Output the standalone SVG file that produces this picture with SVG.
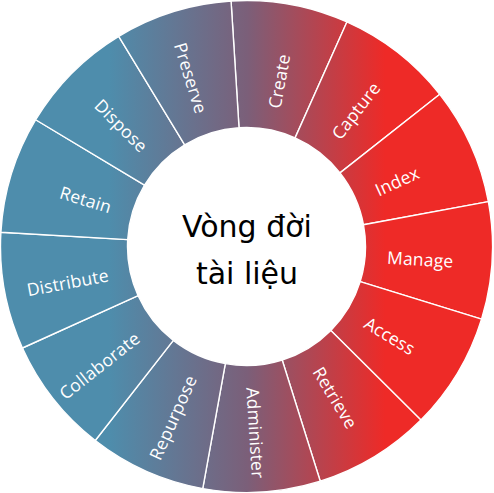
<svg xmlns="http://www.w3.org/2000/svg" width="494" height="493" viewBox="0 0 494 493">
<defs>
<linearGradient id="g" gradientUnits="userSpaceOnUse" x1="0" y1="0" x2="494" y2="0">
<stop offset="0.22" stop-color="#4e8dac"/>
<stop offset="0.5" stop-color="#7b5f79"/>
<stop offset="0.78" stop-color="#ee2a27"/>
</linearGradient>
<style>
.seg{fill:url(#g);stroke:#fff;stroke-width:1.4;stroke-linejoin:round}
.lbl{fill:#fff;font-family:"Open Sans","DejaVu Sans",sans-serif;font-size:17.5px;letter-spacing:0.2px}
.ctr{fill:#000;font-family:"DejaVu Sans","Noto Sans",sans-serif;font-size:30px;text-anchor:middle}
</style>
</defs>
<rect width="494" height="493" fill="#fff"/>
<g id="segments">
<g id="create"><path class="seg" d="M231.05,0.98 A246,246 0 0 1 346.92,21.93 L295.08,137.87 A119,119 0 0 0 239.03,127.73 Z"/>
<text class="lbl" transform="translate(246.5 246.5) rotate(-79.754)" x="141" y="3" dy="0.35em">Create</text></g>
<g id="capture"><path class="seg" d="M346.92,21.93 A246,246 0 0 1 439.78,94.32 L340,172.88 A119,119 0 0 0 295.08,137.87 Z"/>
<text class="lbl" transform="translate(246.5 246.5) rotate(-52.062)" x="141" y="3" dy="0.35em">Capture</text></g>
<g id="index"><path class="seg" d="M439.78,94.32 A246,246 0 0 1 488.37,201.57 L363.5,224.77 A119,119 0 0 0 340,172.88 Z"/>
<text class="lbl" transform="translate(246.5 246.5) rotate(-24.369)" x="141" y="3" dy="0.35em">Index</text></g>
<g id="manage"><path class="seg" d="M488.37,201.57 A246,246 0 0 1 481.54,319.12 L360.2,281.63 A119,119 0 0 0 363.5,224.77 Z"/>
<text class="lbl" transform="translate(246.5 246.5) rotate(3.323)" x="141" y="3" dy="0.35em">Manage</text></g>
<g id="access"><path class="seg" d="M481.54,319.12 A246,246 0 0 1 420.87,420.03 L330.85,330.44 A119,119 0 0 0 360.2,281.63 Z"/>
<text class="lbl" transform="translate(246.5 246.5) rotate(31.015)" x="141" y="3" dy="0.35em">Access</text></g>
<g id="retrieve"><path class="seg" d="M420.87,420.03 A246,246 0 0 1 320.26,481.19 L282.18,360.03 A119,119 0 0 0 330.85,330.44 Z"/>
<text class="lbl" transform="translate(246.5 246.5) rotate(58.708)" x="141" y="3" dy="0.35em">Retrieve</text></g>
<g id="administer"><path class="seg" d="M320.26,481.19 A246,246 0 0 1 202.74,488.58 L225.33,363.6 A119,119 0 0 0 282.18,360.03 Z"/>
<text class="lbl" transform="translate(246.5 246.5) rotate(86.4)" x="141" y="3" dy="0.35em">Administer</text></g>
<g id="repurpose"><path class="seg" d="M202.74,488.58 A246,246 0 0 1 95.26,440.51 L173.34,340.35 A119,119 0 0 0 225.33,363.6 Z"/>
<text class="lbl" transform="translate(246.5 246.5) rotate(-65.908)" x="-141" y="3" dy="0.35em" text-anchor="end">Repurpose</text></g>
<g id="collaborate"><path class="seg" d="M95.26,440.51 A246,246 0 0 1 22.41,348.01 L138.1,295.6 A119,119 0 0 0 173.34,340.35 Z"/>
<text class="lbl" transform="translate(246.5 246.5) rotate(-38.215)" x="-141" y="3" dy="0.35em" text-anchor="end">Collaborate</text></g>
<g id="distribute"><path class="seg" d="M22.41,348.01 A246,246 0 0 1 0.91,232.24 L127.7,239.6 A119,119 0 0 0 138.1,295.6 Z"/>
<text class="lbl" transform="translate(246.5 246.5) rotate(-10.523)" x="-141" y="3" dy="0.35em" text-anchor="end">Distribute</text></g>
<g id="retain"><path class="seg" d="M0.91,232.24 A246,246 0 0 1 35.67,119.74 L144.51,185.18 A119,119 0 0 0 127.7,239.6 Z"/>
<text class="lbl" transform="translate(246.5 246.5) rotate(17.169)" x="-141" y="3" dy="0.35em" text-anchor="end">Retain</text></g>
<g id="dispose"><path class="seg" d="M35.67,119.74 A246,246 0 0 1 118.73,36.28 L184.69,144.81 A119,119 0 0 0 144.51,185.18 Z"/>
<text class="lbl" transform="translate(246.5 246.5) rotate(44.862)" x="-141" y="3" dy="0.35em" text-anchor="end">Dispose</text></g>
<g id="preserve"><path class="seg" d="M118.73,36.28 A246,246 0 0 1 231.05,0.98 L239.03,127.73 A119,119 0 0 0 184.69,144.81 Z"/>
<text class="lbl" transform="translate(246.5 246.5) rotate(72.554)" x="-141" y="3" dy="0.35em" text-anchor="end">Preserve</text></g>
</g>
<g id="connectors"/>
<g id="center">
<text class="ctr" x="247" y="237">Vòng đời</text>
<text class="ctr" x="247" y="284">tài liệu</text>
</g>
</svg>
